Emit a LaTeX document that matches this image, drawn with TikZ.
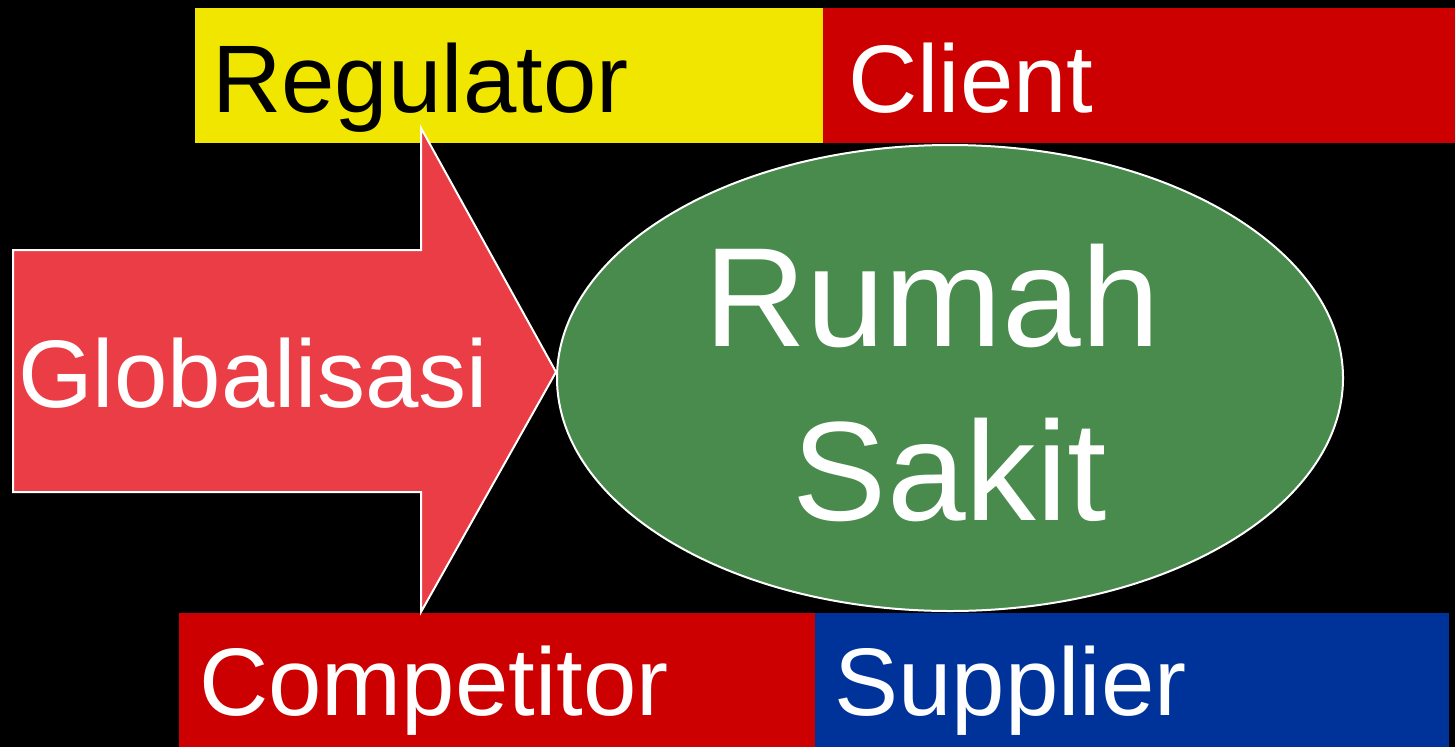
\documentclass[tikz,border=0pt]{standalone}
\usepackage{fontspec}
\setmainfont{Liberation Sans}
\usetikzlibrary{shapes.geometric}
\definecolor{cyellow}{RGB}{240,230,0}
\definecolor{cred}{RGB}{204,0,0}
\definecolor{carrow}{RGB}{235,61,69}
\definecolor{cgreen}{RGB}{72,139,76}
\definecolor{cblue}{RGB}{0,51,153}
\tikzset{
  lbl/.style={anchor=base west, inner sep=0pt, font=\fontsize{72}{80}\selectfont},
}
\begin{document}
\begin{tikzpicture}[x=0.75pt,y=-0.75pt]
\fill[black] (0,0) rectangle (1455,747);
\useasboundingbox (0,0) rectangle (1455,747);
% boxes
\fill[cyellow] (195,8) rectangle (823,143);
\fill[cred] (823,8) rectangle (1455,143);
\fill[cred] (179,613) rectangle (815,747);
\fill[cblue] (815,613) rectangle (1449,747);
\node[lbl, text=black] (reg) at (212,112) {Regulator};
\node[lbl, text=white] (cli) at (848,112) {Client};
\node[lbl, text=white] (com) at (199,715) {Competitor};
\node[lbl, text=white] (sup) at (834,715) {Supplier};
% arrow
\draw[fill=carrow, draw=white, line width=1.5pt, line join=miter]
  (13,250) -- (421,250) -- (421,128) -- (556,372) -- (421,612) -- (421,492) -- (13,492) -- cycle;
\node[lbl, text=white] (glo) at (18,407) {Globalisasi};
% ellipse
\node[ellipse, fill=cgreen, draw=white, line width=1.5pt, minimum width=786*0.75pt, minimum height=466*0.75pt, inner sep=0pt] (rs) at (950,378) {};
\node[text=white, align=center, inner sep=0pt, font=\fontsize{106}{130}\selectfont] (rst) at (942,383) {Rumah\hspace*{15pt}\\\hspace*{12pt}Sakit};
\end{tikzpicture}
\end{document}
